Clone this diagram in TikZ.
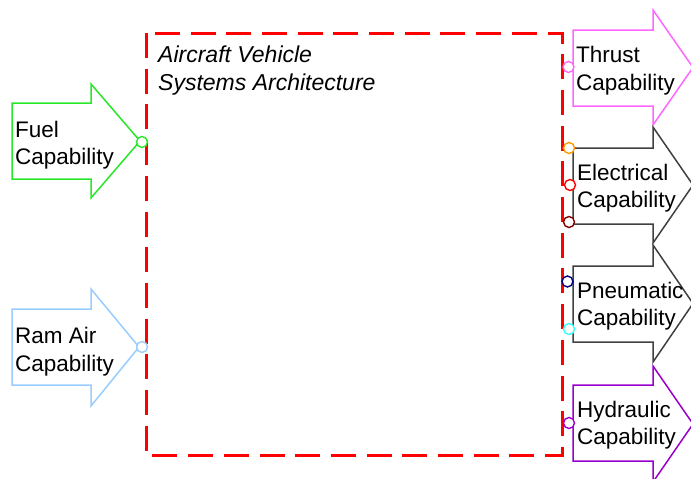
\documentclass[tikz,border=0pt]{standalone}
\usepackage{fontspec}
\setmainfont{Liberation Sans}
\definecolor{fuelgreen}{RGB}{40,230,40}
\definecolor{ramblue}{RGB}{153,204,255}
\definecolor{thrustpink}{RGB}{255,102,255}
\definecolor{capgray}{RGB}{64,64,64}
\definecolor{hydpurple}{RGB}{153,0,204}
\definecolor{portorange}{RGB}{255,153,0}
\definecolor{portred}{RGB}{255,0,0}
\definecolor{portdarkred}{RGB}{128,0,0}
\definecolor{portnavy}{RGB}{0,0,128}
\definecolor{portcyan}{RGB}{51,255,255}
\begin{document}
\begin{tikzpicture}[x=1pt,y=-1pt,
  arrowshape/.style={line width=1.5pt, line join=miter},
  port/.style={circle, draw, fill=white, line width=1.4pt, minimum size=11pt, inner sep=0pt},
  lbl/.style={anchor=base west, inner sep=0pt, font=\fontsize{22.5}{27}\selectfont},
  ttl/.style={anchor=base west, inner sep=0pt, font=\fontsize{23}{28}\selectfont\itshape},
  sysbox/.style={draw=red, line width=3pt, dash pattern=on 25pt off 10.7pt}]
\useasboundingbox (0,0) rectangle (691,479);
\clip (0,0) rectangle (691,479);
% system boundary
\coordinate (archNW) at (146,33);
\coordinate (archSE) at (562,455);
\draw[sysbox] (archNW) -- (archNW |- archSE) -- (archSE) -- (archSE |- archNW) -- cycle;
% left arrows
\draw[arrowshape, fuelgreen] (12,103) -- (91,103) -- (91,84) -- (140,141) -- (91,198) -- (91,179) -- (12,179) -- cycle;
\draw[arrowshape, ramblue] (12,309) -- (91,309) -- (91,289) -- (139,347) -- (91,406) -- (91,385) -- (12,385) -- cycle;
% right arrows
\draw[arrowshape, thrustpink] (573,30) -- (653,30) -- (653,10) -- (693,67.5) -- (653,125) -- (653,106) -- (573,106) -- cycle;
\draw[arrowshape, capgray] (573,148) -- (653,148) -- (653,127) -- (693,185) -- (653,243) -- (653,224) -- (573,224) -- cycle;
\draw[arrowshape, capgray] (573,266) -- (653,266) -- (653,245) -- (693,303.5) -- (653,362) -- (653,342) -- (573,342) -- cycle;
\draw[arrowshape, hydpurple] (573,385) -- (653,385) -- (653,366) -- (693,424) -- (653,482) -- (653,461) -- (573,461) -- cycle;
% labels
\node[ttl] (title1) at (158,62) {Aircraft Vehicle};
\node[ttl] (title2) at (158,90) {Systems Architecture};
\node[lbl] (fuel1) at (15,137) {Fuel};
\node[lbl] (fuel2) at (15,164) {Capability};
\node[lbl] (ram1) at (15,343) {Ram Air};
\node[lbl] (ram2) at (15,371) {Capability};
\node[lbl] (thr1) at (576,62) {Thrust};
\node[lbl] (thr2) at (576,90) {Capability};
\node[lbl] (ele1) at (577,180) {Electrical};
\node[lbl] (ele2) at (577,207) {Capability};
\node[lbl] (pne1) at (577,298) {Pneumatic};
\node[lbl] (pne2) at (577,325) {Capability};
\node[lbl] (hyd1) at (577,417) {Hydraulic};
\node[lbl] (hyd2) at (577,444) {Capability};
% ports
\node[port, draw=fuelgreen] (pfuel) at (142,142) {};
\node[port, draw=ramblue] (pram) at (142,347) {};
\node[port, draw=thrustpink] (pthr) at (568.5,67) {};
\node[port, draw=portorange] (pele1) at (569,148) {};
\node[port, draw=portred] (pele2) at (570,185) {};
\node[port, draw=portdarkred] (pele3) at (569,222) {};
\node[port, draw=portnavy] (ppne1) at (567.5,281.5) {};
\node[port, draw=portcyan] (ppne2) at (569,329) {};
\node[port, draw=hydpurple] (phyd) at (569,423) {};
\end{tikzpicture}
\end{document}
